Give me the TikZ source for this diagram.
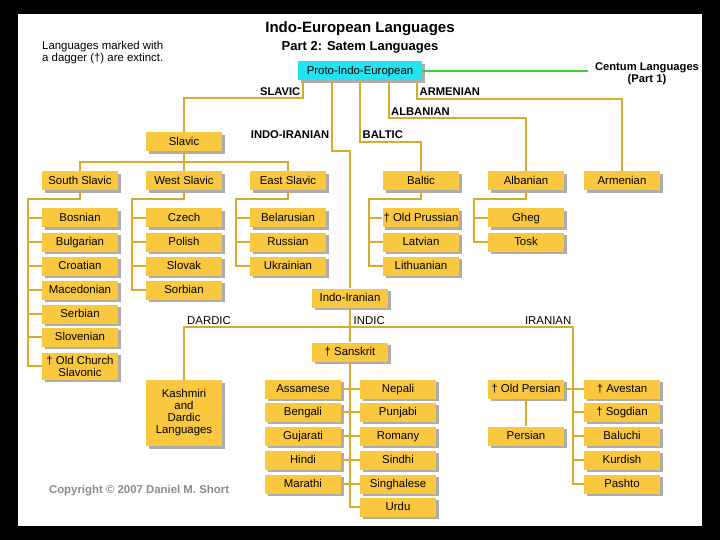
\documentclass[tikz,border=0pt]{standalone}
\usepackage{fontspec}
\setmainfont{Liberation Sans}
\usetikzlibrary{shadows}
\definecolor{boxyellow}{RGB}{250,200,62}
\definecolor{linegold}{RGB}{214,172,48}
\definecolor{shadowgray}{RGB}{172,172,172}
\definecolor{piecyan}{RGB}{34,228,240}
\definecolor{centumgreen}{RGB}{52,208,52}
\definecolor{copygray}{RGB}{140,140,140}
\tikzset{
  lang/.style={fill=boxyellow,minimum width=76pt,minimum height=19pt,inner sep=1pt,align=center,
    text height=7.6pt,text depth=1pt,font=\fontsize{11.4}{12}\selectfont,
    drop shadow={shadow xshift=2.5pt,shadow yshift=-2.5pt,fill=shadowgray,opacity=1}},
  multilang/.style={lang,text height=,text depth=},
  rootlang/.style={lang,fill=piecyan,minimum width=124pt},
  link/.style={draw=linegold,line width=1.8pt},
  centumlink/.style={draw=centumgreen,line width=2pt},
  branchlbl/.style={font=\bfseries\fontsize{11.2}{12}\selectfont,inner sep=1.5pt},
  sublbl/.style={font=\fontsize{11.4}{12}\selectfont,inner sep=1.5pt}
}

\begin{document}
\begin{tikzpicture}[x=1pt,y=-1pt]
\fill[black] (0,0) rectangle (720,540);
\fill[white] (18,14) rectangle (702,526);

\node[font=\bfseries\fontsize{15}{18}\selectfont] (title) at (360,29) {Indo-European Languages};
\node[font=\bfseries\fontsize{13}{15}\selectfont] (subtitle) at (360,47) {Part 2: Satem Languages};
\node[sublbl,align=left,anchor=north west] (note) at (40.5,39.5) {Languages marked with\\a dagger (†) are extinct.};
\node[branchlbl,align=center] (centum) at (647,73.5) {Centum Languages\\(Part 1)};
\node[font=\bfseries\fontsize{11.4}{12}\selectfont,text=copygray,anchor=west] (copy) at (45.5,491) {Copyright © 2007 Daniel M. Short};

\node[rootlang] (pie) at (360,71) {Proto-Indo-European};

\node[lang] (slavic) at (184,142) {Slavic};
\node[lang] (ssl) at (80,181) {South Slavic};
\node[lang] (wsl) at (184,181) {West Slavic};
\node[lang] (esl) at (288,181) {East Slavic};
\node[lang] (baltic) at (421,181) {Baltic};
\node[lang] (albanian) at (526,181) {Albanian};
\node[lang] (armenian) at (622,181) {Armenian};

\node[lang] (bosnian) at (80,218) {Bosnian};
\node[lang] (bulgarian) at (80,242) {Bulgarian};
\node[lang] (croatian) at (80,266) {Croatian};
\node[lang] (macedonian) at (80,290) {Macedonian};
\node[lang] (serbian) at (80,314) {Serbian};
\node[lang] (slovenian) at (80,337) {Slovenian};
\node[multilang,minimum height=27pt] (ocs) at (80,366) {† Old Church\\Slavonic};

\node[lang] (czech) at (184,218) {Czech};
\node[lang] (polish) at (184,242) {Polish};
\node[lang] (slovak) at (184,266) {Slovak};
\node[lang] (sorbian) at (184,290) {Sorbian};

\node[lang] (belarusian) at (288,218) {Belarusian};
\node[lang] (russian) at (288,242) {Russian};
\node[lang] (ukrainian) at (288,266) {Ukrainian};

\node[lang] (oldprussian) at (421,218) {† Old Prussian};
\node[lang] (latvian) at (421,242) {Latvian};
\node[lang] (lithuanian) at (421,266) {Lithuanian};

\node[lang] (gheg) at (526,218) {Gheg};
\node[lang] (tosk) at (526,242) {Tosk};

\node[lang] (indoiranian) at (350,298) {Indo-Iranian};
\node[lang] (sanskrit) at (350,352) {† Sanskrit};
\node[multilang,minimum height=66pt] (kashmiri) at (184,413) {Kashmiri\\and\\Dardic\\Languages};

\node[lang] (assamese) at (303,389) {Assamese};
\node[lang] (bengali) at (303,412) {Bengali};
\node[lang] (gujarati) at (303,436) {Gujarati};
\node[lang] (hindi) at (303,460) {Hindi};
\node[lang] (marathi) at (303,484) {Marathi};
\node[lang] (nepali) at (398,389) {Nepali};
\node[lang] (punjabi) at (398,412) {Punjabi};
\node[lang] (romany) at (398,436) {Romany};
\node[lang] (sindhi) at (398,460) {Sindhi};
\node[lang] (singhalese) at (398,484) {Singhalese};
\node[lang] (urdu) at (398,507) {Urdu};

\node[lang] (oldpersian) at (526,389) {† Old Persian};
\node[lang] (persian) at (526,436) {Persian};
\node[lang] (avestan) at (622,389) {† Avestan};
\node[lang] (sogdian) at (622,412) {† Sogdian};
\node[lang] (baluchi) at (622,436) {Baluchi};
\node[lang] (kurdish) at (622,460) {Kurdish};
\node[lang] (pashto) at (622,484) {Pashto};

\coordinate (slavK) at (303,98);
\coordinate (iiK) at (332,151);
\coordinate (baltK) at (360,142);
\coordinate (albK) at (389,118);
\coordinate (armK) at (417,99);
\coordinate (slavB) at (184,162);
\coordinate (sslT) at (28,199);
\coordinate (wslT) at (132,199);
\coordinate (eslT) at (236,199);
\coordinate (baltT) at (369,199);
\coordinate (albT) at (474,199);
\coordinate (iranT) at (573,327);
\coordinate (indT) at (350,370);

\draw[centumlink] (pie.east) -- ([xshift=-5pt]pie.east -| centum.west);

\draw[link] (pie.south -| slavK) -- (slavK) -| (slavic);
\draw[link] (pie.south -| iiK) -- (iiK) -| (indoiranian);
\draw[link] (pie.south -| baltK) -- (baltK) -| (baltic);
\draw[link] (pie.south -| albK) -- (albK) -| (albanian);
\draw[link] (pie.south -| armK) -- (armK) -| (armenian);
\node[branchlbl,anchor=south east] (slavlbl) at (302,97) {SLAVIC};
\node[branchlbl,anchor=east] (iilbl) at (331,135) {INDO-IRANIAN};
\node[branchlbl,anchor=west] (baltlbl) at (361,135) {BALTIC};
\node[branchlbl,anchor=west] (alblbl) at (389.5,112) {ALBANIAN};
\node[branchlbl,anchor=west] (armlbl) at (418,92) {ARMENIAN};

\draw[link] (slavic) -- (wsl);
\draw[link] (ssl) |- (slavB) -| (esl);
\draw[link] (ssl) |- (sslT) |- (ocs) (sslT) |- (bosnian) (sslT) |- (bulgarian) (sslT) |- (croatian)
  (sslT) |- (macedonian) (sslT) |- (serbian) (sslT) |- (slovenian);
\draw[link] (wsl) |- (wslT) |- (sorbian) (wslT) |- (czech) (wslT) |- (polish) (wslT) |- (slovak);
\draw[link] (esl) |- (eslT) |- (ukrainian) (eslT) |- (belarusian) (eslT) |- (russian);
\draw[link] (baltic) |- (baltT) |- (lithuanian) (baltT) |- (oldprussian) (baltT) |- (latvian);
\draw[link] (albanian) |- (albT) |- (tosk) (albT) |- (gheg);

\draw[link] (indoiranian) -- (sanskrit);
\draw[link] (kashmiri) |- (iranT) |- (pashto) (iranT) |- (avestan) (iranT) |- (sogdian)
  (iranT) |- (baluchi) (iranT) |- (kurdish);
\draw[link] (oldpersian) -- (avestan) (oldpersian) -- (persian);
\draw[link] (sanskrit) |- (urdu) (indT) |- (assamese) (indT) |- (bengali) (indT) |- (gujarati)
  (indT) |- (hindi) (indT) |- (marathi) (indT) |- (nepali) (indT) |- (punjabi) (indT) |- (romany)
  (indT) |- (sindhi) (indT) |- (singhalese);
\node[sublbl,anchor=west] (dardlbl) at (185.5,321) {DARDIC};
\node[sublbl,anchor=west] (indlbl) at (352,321) {INDIC};
\node[sublbl,anchor=east] (iranlbl) at (573,321) {IRANIAN};
\end{tikzpicture}
\end{document}
